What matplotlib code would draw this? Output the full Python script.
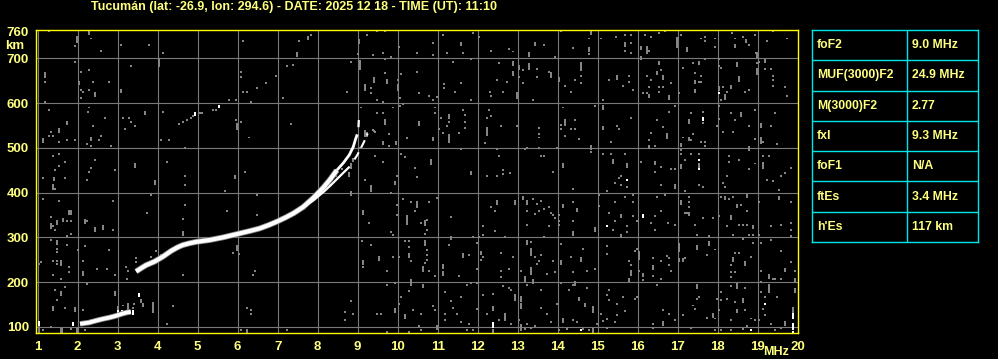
import numpy as np
import matplotlib
matplotlib.use("Agg")
import matplotlib.pyplot as plt

# ---------------- data ----------------
title = "Tucumán (lat: -26.9, lon: 294.6) - DATE: 2025 12 18 - TIME (UT): 11:10"
freq_ticks = list(range(1, 21))
height_ticks = [100, 200, 300, 400, 500, 600, 700, 760]

param_names = ["foF2", "MUF(3000)F2", "M(3000)F2", "fxI", "foF1", "ftEs", "h'Es"]
param_values = ["9.0 MHz", "24.9 MHz", "2.77", "9.3 MHz", "N/A", "3.4 MHz", "117 km"]

# F2 ordinary trace (MHz, km)
o_freq_low = [3.46, 3.60, 3.71, 3.92, 4.13, 4.34, 4.50, 4.63, 4.80, 4.96, 5.29, 5.63,
              5.96, 6.29, 6.55, 6.79, 7.00, 7.21, 7.40, 7.64, 7.89, 8.14, 8.30, 8.48]
o_h_low = [224, 232, 238, 246, 257, 270, 278, 283, 287, 290, 294, 300,
           307, 314, 320, 328, 336, 345, 354, 368, 388, 411, 428, 450]
o_freq_up = [8.48, 8.64, 8.79, 8.89, 8.95, 8.99]
o_h_up = [450, 466, 484, 502, 520, 530]
o_freq_top = [9.02, 9.03]
o_h_top = [546, 562]

# F2 extraordinary trace
x_freq_a = [7.70, 7.90, 8.14, 8.30, 8.48, 8.65, 8.80]
x_h_a = [372, 383, 401, 414, 430, 445, 458]
x_freq_b = [8.92, 8.99, 9.13, 9.20, 9.25]
x_h_b = [474, 484, 508, 521, 532]

# sporadic E trace
es_freq = [2.06, 2.29, 2.45, 2.63, 2.79, 2.96, 3.09, 3.21, 3.33]
es_h = [107, 110, 114, 118, 121, 125, 129, 132, 134]

# isolated echoes: (MHz, km, vertical extent km)
white_echoes = [(4.94, 573, 5), (5.53, 591, 3), (18.03, 622, 0), (17.63, 562, 4),
                (17.54, 473, 0), (17.54, 452, 0), (15.73, 428, 0), (15.23, 325, 0),
                (16.13, 346, 5), (14.58, 94, 0), (18.83, 94, 0), (19.18, 152, 0),
                (19.88, 119, 11), (19.88, 96, 11), (19.88, 88, 0), (12.38, 100, 8),
                (1.03, 104, 7), (1.88, 104, 4), (3.53, 170, 3), (3.0, 130, 5), (3.1, 132, 4),
                (3.2, 128, 5), (3.38, 130, 5), (2.7, 117, 4), (2.85, 120, 5),
                (3.83, 245, 0), (3.92, 249, 0), (4.04, 254, 0), (4.13, 258, 0)]

gray_near_traces = [(3.0, 137, 8), (3.13, 148, 0), (3.25, 141, 11), (3.38, 142, 0),
                    (3.42, 152, 0), (2.53, 121, 0), (2.33, 115, 0), (2.21, 111, 0),
                    (3.25, 224, 0), (3.21, 234, 0), (3.46, 245, 0), (3.46, 253, 0),
                    (3.83, 256, 0), (3.96, 269, 0), (4.08, 261, 0), (3.58, 156, 4),
                    (8.30, 418, 0), (8.45, 437, 0), (8.60, 452, 0), (8.79, 436, 8),
                    (8.83, 455, 8), (8.89, 470, 6), (9.05, 500, 0), (9.18, 526, 11),
                    (9.40, 537, 0), (4.53, 554, 0), (4.63, 558, 0), (4.73, 562, 0),
                    (4.83, 566, 0), (4.88, 572, 0), (5.05, 577, 0), (5.10, 577, 0),
                    (5.38, 584, 0), (5.45, 584, 0)]

gray_upper_left = [(1.29, 761, 0), (1.98, 737, 11), (1.94, 727, 0), (2.29, 754, 6), (2.34, 744, 0),
    (2.59, 717, 0), (3.09, 730, 0), (3.78, 730, 0), (4.13, 712, 0), (1.94, 692, 0), (3.34, 683, 0),
    (4.03, 683, 15), (6.13, 738, 0), (7.23, 683, 0), (1.18, 659, 7), (1.19, 648, 0), (2.03, 642, 6),
    (2.09, 670, 0), (2.28, 674, 0), (2.38, 648, 0), (2.78, 648, 0), (2.09, 629, 0), (2.13, 625, 0),
    (2.28, 629, 0), (2.43, 616, 6), (2.09, 612, 0), (3.09, 624, 5), (6.08, 669, 0), (6.08, 657, 0),
    (6.96, 660, 0), (6.71, 644, 0), (6.48, 634, 0), (6.23, 625, 0), (6.13, 625, 0), (7.13, 611, 0),
    (5.79, 607, 0), (5.96, 607, 0), (6.33, 603, 0), (1.18, 603, 0), (1.28, 584, 0), (2.25, 581, 0),
    (2.28, 590, 0), (2.68, 567, 0), (3.13, 567, 0), (3.28, 567, 0), (3.34, 558, 0), (3.43, 549, 0),
    (3.18, 541, 0), (3.68, 575, 6), (4.13, 581, 0), (1.74, 553, 5), (2.38, 549, 0), (1.53, 535, 6),
    (1.33, 536, 0), (1.28, 526, 0), (1.38, 526, 0), (1.13, 513, 6), (1.53, 513, 0), (1.73, 518, 0),
    (1.93, 518, 0), (2.34, 517, 5), (2.54, 518, 0), (2.59, 526, 0), (2.24, 509, 0), (2.34, 505, 0),
    (2.84, 504, 0), (4.09, 518, 0), (4.28, 518, 0), (4.68, 500, 0), (5.96, 562, 0), (6.08, 558, 0),
    (5.98, 543, 10), (6.28, 523, 0), (1.38, 482, 0), (1.53, 486, 0), (1.69, 469, 0), (1.53, 459, 0),
    (1.43, 450, 0), (1.13, 433, 0), (1.42, 428, 5), (1.68, 433, 0), (2.24, 428, 0), (2.29, 447, 0),
    (2.34, 456, 0), (2.43, 473, 0), (2.93, 450, 0), (3.43, 458, 7), (4.23, 469, 0), (4.68, 438, 0),
    (5.94, 432, 6), (6.18, 447, 0)]

gray_upper_mid = [(7.83, 752, 0), (7.77, 742, 6), (7.54, 739, 0), (7.48, 706, 6), (7.38, 684, 0),
    (9.03, 733, 7), (9.23, 752, 0), (9.48, 761, 0), (9.69, 761, 0), (10.03, 726, 0), (9.02, 709, 0),
    (9.39, 707, 0), (9.63, 712, 0), (9.84, 703, 0), (8.83, 692, 0), (9.06, 677, 17), (9.69, 698, 0),
    (10.48, 712, 0), (10.88, 735, 0), (10.88, 707, 0), (11.13, 752, 0), (11.58, 730, 5), (11.63, 712, 0),
    (11.23, 712, 0), (11.88, 757, 0), (12.03, 748, 0), (12.33, 717, 0), (12.78, 721, 0), (12.88, 715, 0),
    (12.88, 685, 7), (12.88, 663, 7), (13.28, 706, 6), (13.28, 677, 11), (13.03, 675, 7), (13.44, 729, 6),
    (13.48, 677, 0), (13.13, 674, 0), (13.48, 657, 0), (13.03, 657, 0), (13.13, 644, 0), (12.73, 648, 0),
    (12.48, 651, 0), (12.53, 689, 0), (11.83, 698, 0), (11.38, 692, 0), (10.48, 670, 0), (10.08, 665, 0),
    (10.0, 651, 0), (10.0, 629, 11), (9.69, 666, 0), (9.42, 648, 7), (9.73, 645, 6), (9.19, 629, 11),
    (9.33, 633, 0), (9.33, 622, 0), (8.73, 625, 0), (9.48, 607, 0), (9.63, 603, 0), (10.06, 612, 0),
    (10.53, 622, 0), (10.78, 616, 0), (10.88, 607, 0), (10.98, 614, 0), (11.17, 642, 0), (11.17, 634, 0),
    (11.43, 625, 0), (11.58, 644, 0), (11.83, 607, 0), (12.31, 625, 0), (12.33, 616, 0), (12.63, 625, 0),
    (12.98, 611, 11), (13.38, 607, 0), (9.08, 590, 0), (9.48, 577, 0), (9.63, 577, 0), (9.69, 553, 10),
    (9.88, 590, 0), (10.06, 593, 0), (10.13, 598, 0), (10.93, 590, 0), (10.93, 577, 0), (10.53, 552, 6),
    (11.08, 567, 0), (11.28, 566, 7), (11.28, 558, 0), (11.23, 549, 0), (11.03, 541, 0), (11.13, 532, 0),
    (11.28, 514, 15), (11.53, 532, 0), (11.64, 584, 0), (11.68, 573, 0), (11.68, 558, 0), (11.68, 545, 0),
    (12.29, 584, 0), (12.23, 567, 0), (12.33, 571, 0), (12.23, 529, 15), (12.58, 549, 0), (12.98, 549, 0),
    (12.19, 510, 0), (9.23, 526, 6), (9.38, 540, 0), (9.44, 536, 0), (9.78, 531, 0), (9.63, 509, 5),
    (9.79, 504, 0), (9.96, 509, 5), (10.23, 522, 0), (10.88, 518, 5), (10.08, 486, 0), (10.19, 479, 0),
    (9.44, 482, 0), (9.63, 469, 0), (10.44, 456, 0), (10.48, 434, 0), (10.83, 464, 9), (11.58, 497, 0),
    (12.48, 497, 0), (12.53, 482, 0), (11.83, 442, 5), (12.23, 436, 0), (12.48, 437, 0), (12.63, 451, 0),
    (12.63, 442, 0), (12.81, 443, 0), (13.19, 497, 0), (13.23, 500, 0), (13.54, 500, 0), (13.58, 482, 0),
    (13.53, 544, 0), (13.53, 531, 0), (13.53, 523, 0), (7.34, 553, 0), (9.98, 437, 0), (9.19, 428, 0)]

gray_upper_right = [(14.08, 761, 0), (14.83, 754, 7), (14.79, 744, 0), (14.79, 715, 7), (14.79, 709, 0),
    (14.39, 722, 0), (15.08, 744, 0), (15.45, 748, 0), (15.69, 752, 0), (15.69, 727, 7), (15.69, 717, 0),
    (15.84, 752, 0), (15.84, 735, 0), (15.84, 712, 0), (16.08, 720, 6), (16.23, 711, 15), (16.29, 717, 0),
    (16.19, 752, 0), (16.33, 748, 0), (16.54, 757, 0), (16.68, 761, 0), (16.98, 726, 19), (17.08, 752, 0),
    (17.24, 717, 5), (17.58, 744, 0), (17.68, 748, 0), (17.68, 738, 0), (17.93, 744, 0), (17.93, 726, 0),
    (18.37, 757, 0), (18.43, 744, 0), (18.43, 724, 5), (18.64, 748, 0), (18.7, 737, 4), (18.78, 730, 0),
    (18.93, 752, 0), (19.23, 738, 0), (19.73, 744, 0), (19.38, 761, 0), (18.96, 712, 0), (13.66, 730, 0),
    (13.93, 703, 0), (13.79, 670, 0), (13.83, 659, 7), (14.03, 650, 5), (14.18, 639, 0), (14.33, 625, 0),
    (14.58, 674, 15), (14.58, 660, 0), (14.58, 644, 0), (14.43, 651, 0), (14.93, 594, 0), (15.13, 607, 0),
    (15.13, 587, 6), (15.28, 651, 0), (15.48, 654, 7), (15.63, 639, 0), (15.79, 648, 0), (15.79, 661, 0),
    (15.88, 629, 0), (16.08, 698, 5), (16.54, 686, 6), (16.58, 674, 0), (16.49, 664, 6), (16.63, 654, 7),
    (16.33, 651, 0), (16.23, 661, 0), (16.28, 635, 0), (16.53, 635, 0), (16.63, 635, 0), (16.53, 625, 0),
    (16.83, 644, 0), (16.13, 622, 0), (16.23, 622, 0), (16.28, 614, 5), (16.78, 610, 5), (17.03, 622, 0),
    (17.13, 679, 0), (17.38, 689, 0), (17.53, 686, 6), (17.68, 698, 0), (17.43, 666, 0), (17.58, 661, 0),
    (17.43, 644, 6), (17.53, 648, 0), (17.58, 648, 0), (17.43, 624, 5), (18.03, 698, 0), (18.03, 683, 0),
    (18.08, 679, 0), (18.48, 683, 6), (18.53, 650, 7), (18.33, 633, 6), (18.13, 635, 0), (18.23, 625, 0),
    (18.03, 629, 6), (18.18, 610, 7), (18.08, 607, 0), (18.68, 625, 0), (18.78, 629, 0), (18.98, 703, 9),
    (18.98, 689, 0), (18.98, 664, 11), (19.03, 692, 0), (19.18, 692, 5), (19.18, 675, 0), (19.33, 675, 0),
    (19.38, 661, 0), (19.38, 651, 0), (19.38, 639, 0), (19.68, 635, 0), (19.73, 616, 0), (18.03, 593, 0),
    (17.63, 581, 0), (17.63, 556, 0), (17.33, 577, 0), (17.28, 556, 7), (17.13, 523, 0), (17.28, 518, 5),
    (17.33, 517, 0), (17.38, 530, 0), (17.58, 514, 0), (17.68, 514, 0), (17.68, 504, 0), (17.54, 458, 7),
    (17.08, 503, 6), (17.08, 495, 0), (17.08, 454, 7), (17.18, 473, 0), (17.33, 486, 0), (17.53, 486, 0),
    (17.09, 486, 0), (16.73, 521, 9), (16.63, 547, 0), (16.48, 562, 0), (16.33, 532, 0), (16.28, 517, 0),
    (16.28, 499, 5), (16.43, 504, 0), (16.08, 469, 0), (16.43, 464, 5), (16.83, 452, 0), (16.93, 452, 0),
    (16.58, 458, 0), (16.43, 447, 0), (16.78, 581, 0), (16.93, 593, 0), (15.83, 567, 0), (15.48, 549, 0),
    (15.53, 541, 0), (15.33, 514, 0), (15.13, 543, 4), (14.83, 498, 6), (14.83, 491, 0), (15.13, 486, 0),
    (15.33, 486, 0), (15.38, 467, 6), (15.68, 486, 0), (15.73, 458, 7), (15.58, 438, 0), (15.53, 433, 0),
    (14.13, 458, 7), (13.88, 447, 0), (13.66, 482, 0), (13.98, 500, 0), (14.53, 519, 0), (14.18, 526, 0),
    (14.33, 541, 0), (14.08, 541, 0), (14.44, 543, 0), (14.18, 552, 10), (14.08, 552, 0), (14.44, 562, 0),
    (14.13, 590, 0), (18.03, 564, 0), (17.98, 549, 0), (18.13, 536, 0), (18.33, 578, 0), (18.43, 562, 0),
    (18.38, 536, 0), (18.58, 571, 6), (18.78, 549, 0), (18.93, 584, 0), (18.93, 519, 0), (19.08, 547, 7),
    (19.08, 510, 13), (19.13, 514, 0), (19.33, 549, 0), (19.43, 577, 0), (19.48, 509, 0), (18.78, 494, 7),
    (18.28, 482, 0), (18.28, 469, 0), (18.23, 438, 0), (18.78, 452, 0), (18.93, 465, 0), (19.13, 482, 0),
    (19.13, 456, 10), (19.28, 482, 0), (19.58, 438, 0), (19.68, 443, 0), (19.83, 456, 0), (19.23, 428, 0),
    (19.38, 426, 0), (18.53, 473, 0)]

gray_lower_left = [(1.38, 408, 10), (1.43, 409, 0), (3.94, 419, 7), (4.68, 418, 0), (1.13, 386, 0),
    (1.53, 381, 0), (2.88, 381, 0), (3.83, 395, 0), (1.78, 353, 6), (1.83, 353, 6), (1.63, 336, 6),
    (1.33, 346, 0), (1.48, 331, 6), (1.73, 337, 0), (1.83, 337, 0), (1.33, 322, 9), (1.38, 325, 0),
    (1.43, 317, 0), (1.83, 308, 0), (1.73, 303, 0), (1.33, 294, 0), (1.48, 286, 7), (1.48, 275, 0),
    (1.48, 267, 0), (1.73, 282, 0), (2.0, 271, 0), (2.19, 280, 0), (2.19, 333, 5), (2.24, 337, 0),
    (2.43, 314, 6), (2.63, 318, 7), (2.79, 271, 0), (2.88, 317, 0), (3.74, 355, 0), (4.68, 372, 0),
    (4.63, 342, 0), (4.63, 305, 7), (4.68, 287, 0), (5.73, 359, 0), (6.48, 395, 0), (6.48, 351, 0),
    (5.68, 404, 0), (5.98, 271, 9), (6.03, 262, 0), (5.88, 266, 0), (6.43, 225, 0), (6.38, 217, 0),
    (1.03, 241, 0), (1.08, 245, 0), (1.38, 247, 0), (1.48, 247, 0), (1.58, 239, 8), (1.48, 240, 0),
    (1.78, 235, 0), (1.78, 223, 0), (2.13, 247, 0), (2.13, 215, 7), (1.38, 217, 0), (1.58, 208, 0),
    (2.48, 230, 0), (2.73, 230, 0), (2.93, 215, 0), (3.23, 208, 0), (2.23, 195, 0), (1.43, 182, 0),
    (1.68, 189, 0), (1.58, 171, 7), (1.48, 160, 0), (1.38, 137, 7), (1.68, 142, 0), (1.93, 136, 6),
    (2.13, 139, 0), (2.93, 171, 7), (3.88, 134, 19), (3.63, 147, 5), (4.38, 147, 0), (4.63, 217, 0),
    (4.23, 107, 0), (6.23, 143, 0), (6.33, 139, 0), (6.33, 130, 0), (1.03, 89, 15), (1.58, 89, 7),
    (1.62, 89, 7), (1.33, 100, 0), (1.83, 96, 0), (1.98, 89, 7), (2.19, 94, 0), (6.08, 94, 0),
    (6.23, 89, 5), (7.23, 94, 0), (1.13, 94, 0)]

gray_lower_mid = [(8.83, 394, 7), (9.33, 403, 12), (9.94, 420, 4), (9.83, 400, 0), (10.14, 386, 0),
    (10.33, 378, 0), (10.48, 368, 10), (10.78, 378, 0), (10.98, 388, 0), (9.13, 353, 7), (9.28, 332, 0),
    (9.98, 372, 0), (9.98, 349, 0), (10.23, 331, 17), (10.43, 360, 0), (10.58, 333, 0), (10.68, 327, 9),
    (10.73, 338, 0), (10.73, 316, 0), (10.68, 307, 0), (9.83, 311, 0), (9.88, 306, 0), (11.33, 346, 0),
    (11.33, 296, 5), (11.88, 301, 0), (12.03, 301, 0), (12.13, 325, 0), (12.13, 306, 0), (11.98, 288, 0),
    (12.33, 368, 0), (12.48, 375, 6), (12.43, 359, 0), (12.43, 314, 0), (12.68, 301, 0), (12.93, 375, 6),
    (13.13, 385, 5), (13.23, 375, 6), (13.23, 358, 0), (13.23, 328, 0), (13.38, 386, 0), (13.48, 375, 0),
    (13.58, 381, 0), (13.43, 353, 0), (13.53, 358, 0), (9.11, 293, 0), (9.33, 284, 0), (9.13, 241, 7),
    (9.13, 234, 0), (9.53, 250, 6), (9.73, 225, 0), (9.88, 256, 0), (10.03, 256, 0), (10.18, 293, 0),
    (10.28, 293, 0), (10.28, 279, 0), (10.28, 256, 7), (10.33, 247, 0), (10.68, 282, 11), (10.73, 271, 0),
    (10.73, 260, 0), (10.73, 250, 0), (10.68, 243, 0), (10.63, 224, 10), (10.78, 224, 0), (10.93, 213, 0),
    (11.13, 232, 7), (11.13, 215, 7), (11.28, 284, 0), (11.53, 213, 0), (11.63, 256, 7), (11.78, 261, 0),
    (12.08, 262, 6), (12.13, 256, 0), (12.08, 249, 0), (11.98, 230, 0), (12.58, 266, 0), (12.58, 224, 0),
    (12.58, 212, 0), (12.78, 230, 0), (12.88, 256, 0), (13.08, 224, 0), (13.23, 286, 7), (13.33, 290, 0),
    (13.33, 261, 13), (13.43, 256, 0), (13.48, 241, 0), (13.53, 247, 0), (13.58, 261, 0), (13.33, 219, 13),
    (13.18, 202, 10), (13.38, 199, 5), (13.23, 194, 0), (9.73, 194, 0), (9.93, 199, 0), (10.33, 193, 11),
    (10.63, 189, 5), (10.28, 181, 0), (10.08, 167, 0), (10.03, 152, 0), (9.93, 134, 7), (10.18, 119, 7),
    (10.38, 139, 0), (10.58, 130, 0), (10.88, 147, 0), (10.93, 137, 0), (8.83, 157, 0), (8.68, 134, 0),
    (8.68, 116, 0), (8.88, 130, 0), (9.48, 130, 0), (9.58, 130, 0), (9.73, 89, 0), (10.28, 89, 0),
    (10.53, 102, 0), (10.58, 94, 0), (10.98, 96, 7), (11.18, 178, 0), (11.18, 130, 0), (11.18, 116, 0),
    (11.33, 157, 0), (11.38, 142, 0), (11.48, 130, 0), (11.58, 168, 0), (11.58, 111, 0), (11.73, 194, 0),
    (11.83, 199, 0), (11.73, 94, 0), (11.88, 94, 0), (11.78, 107, 0), (11.98, 199, 0), (11.98, 141, 0),
    (12.13, 172, 0), (12.23, 130, 0), (12.38, 173, 0), (12.38, 137, 7), (12.38, 89, 5), (12.53, 116, 0),
    (12.63, 191, 0), (12.68, 115, 15), (12.78, 187, 0), (12.83, 183, 0), (12.83, 107, 0), (12.93, 160, 11),
    (13.08, 158, 10), (13.08, 142, 10), (13.03, 116, 0), (13.08, 93, 11), (13.18, 96, 0), (13.33, 98, 0),
    (13.43, 102, 0), (13.58, 182, 0), (13.58, 142, 0), (13.23, 107, 0)]

gray_lower_right = [(15.43, 421, 0), (15.58, 418, 0), (15.73, 413, 0), (16.58, 418, 0), (16.93, 411, 7),
    (17.18, 404, 0), (17.53, 418, 0), (17.63, 413, 0), (18.13, 421, 0), (18.18, 413, 0), (19.53, 405, 0),
    (14.38, 409, 0), (15.23, 404, 0), (15.03, 395, 0), (15.68, 390, 0), (15.88, 395, 0), (16.48, 390, 0),
    (16.68, 395, 0), (17.08, 375, 7), (17.28, 390, 0), (17.28, 378, 0), (17.28, 368, 0), (17.28, 349, 5),
    (17.18, 355, 0), (18.18, 385, 5), (18.28, 386, 0), (18.08, 390, 0), (18.38, 390, 0), (18.73, 390, 5),
    (18.48, 368, 5), (18.58, 372, 0), (18.73, 359, 0), (19.03, 378, 0), (19.53, 385, 5), (19.83, 378, 0),
    (14.13, 368, 5), (14.38, 378, 0), (14.48, 358, 6), (13.78, 368, 0), (13.66, 364, 0), (13.83, 355, 0),
    (13.88, 349, 0), (13.93, 343, 0), (14.03, 351, 0), (14.03, 336, 0), (14.03, 327, 0), (13.78, 325, 0),
    (14.38, 337, 0), (14.38, 305, 7), (14.93, 314, 6), (15.03, 370, 0), (15.28, 355, 0), (15.43, 378, 0),
    (15.59, 346, 5), (15.88, 378, 0), (15.88, 347, 0), (15.73, 325, 0), (15.73, 312, 0), (15.43, 336, 0),
    (15.38, 316, 0), (15.59, 301, 5), (15.98, 336, 0), (16.43, 347, 0), (16.33, 333, 0), (16.43, 316, 0),
    (16.58, 359, 0), (16.76, 333, 0), (16.93, 328, 0), (17.23, 355, 0), (17.63, 343, 0), (17.43, 328, 0),
    (17.48, 306, 0), (17.78, 303, 0), (17.88, 343, 0), (18.03, 347, 0), (18.23, 325, 0), (18.33, 342, 5),
    (18.38, 306, 0), (18.53, 327, 0), (18.63, 328, 0), (18.73, 328, 0), (18.88, 320, 5), (18.78, 306, 0),
    (18.88, 306, 0), (19.03, 305, 0), (19.33, 325, 0), (19.58, 328, 0), (19.83, 333, 0), (19.83, 316, 0),
    (19.83, 303, 0), (13.66, 301, 0), (14.08, 285, 0), (14.63, 275, 0), (14.33, 256, 0), (14.58, 248, 5),
    (14.08, 241, 7), (13.88, 247, 0), (13.73, 219, 0), (13.93, 223, 0), (14.38, 223, 0), (14.43, 194, 6),
    (14.73, 224, 0), (14.93, 230, 0), (15.23, 281, 0), (15.23, 264, 0), (15.93, 269, 0), (15.98, 275, 0),
    (16.03, 251, 16), (15.78, 247, 0), (15.83, 238, 0), (15.83, 215, 9), (16.13, 213, 6), (16.13, 204, 0),
    (16.03, 224, 0), (15.78, 202, 6), (16.38, 253, 0), (16.38, 230, 7), (16.38, 213, 0), (16.58, 208, 0),
    (16.73, 258, 0), (16.78, 253, 0), (16.78, 239, 0), (16.83, 226, 0), (16.58, 247, 0), (17.03, 269, 17),
    (17.03, 247, 5), (17.13, 247, 5), (17.18, 253, 0), (17.48, 275, 5), (17.78, 282, 7), (17.73, 261, 0),
    (17.93, 273, 0), (18.38, 247, 7), (18.43, 266, 0), (18.53, 266, 0), (18.68, 239, 6), (18.83, 256, 0),
    (18.33, 238, 0), (18.33, 223, 0), (18.43, 223, 0), (18.33, 212, 0), (18.63, 296, 0), (18.88, 288, 0),
    (19.08, 288, 0), (19.33, 294, 0), (19.58, 270, 0), (19.68, 224, 6), (19.83, 245, 0), (19.93, 224, 0),
    (19.58, 208, 0), (19.28, 209, 6), (19.38, 208, 0), (19.43, 208, 0), (19.08, 226, 0), (19.08, 200, 0),
    (14.08, 199, 0), (14.28, 182, 0), (14.38, 194, 0), (14.73, 186, 0), (14.53, 160, 4), (14.68, 147, 5),
    (14.88, 133, 11), (15.08, 130, 0), (15.28, 182, 0), (15.23, 172, 0), (15.28, 160, 0), (15.48, 152, 0),
    (15.63, 167, 0), (15.68, 135, 0), (15.48, 127, 0), (15.23, 117, 0), (15.43, 111, 0), (15.13, 113, 0),
    (14.98, 107, 0), (15.23, 98, 0), (14.88, 89, 7), (14.78, 94, 0), (14.63, 96, 0), (14.48, 111, 0),
    (14.38, 116, 0), (14.23, 96, 0), (14.13, 111, 7), (13.98, 152, 0), (13.83, 111, 0), (13.73, 130, 0),
    (14.03, 94, 0), (15.93, 163, 0), (15.98, 167, 0), (16.48, 194, 0), (16.63, 139, 0), (16.78, 130, 0),
    (16.93, 116, 0), (17.13, 126, 0), (17.33, 98, 0), (16.38, 107, 0), (16.38, 98, 0), (16.63, 104, 7),
    (17.48, 186, 7), (17.48, 163, 0), (17.43, 141, 0), (17.38, 148, 0), (17.53, 168, 0), (17.73, 120, 0),
    (17.88, 122, 7), (17.98, 163, 0), (18.08, 178, 0), (18.03, 137, 0), (17.93, 119, 0), (18.23, 163, 0),
    (18.33, 191, 0), (18.43, 156, 0), (18.48, 186, 9), (18.48, 134, 5), (18.63, 156, 7), (18.68, 186, 0),
    (18.68, 137, 0), (18.83, 119, 0), (18.93, 116, 0), (19.03, 116, 0), (18.73, 102, 0), (18.63, 96, 0),
    (18.33, 116, 0), (18.33, 94, 0), (17.93, 94, 0), (18.08, 94, 0), (18.08, 160, 0), (19.08, 178, 0),
    (19.18, 167, 0), (19.28, 178, 15), (19.48, 168, 0), (19.13, 141, 0), (19.18, 126, 0), (19.33, 107, 0),
    (19.43, 94, 0), (19.58, 98, 0), (19.68, 104, 7), (19.93, 178, 7), (19.93, 200, 7), (19.88, 132, 10)]

# ---------------- styling ----------------
BG = "black"
YEL = "#ffff00"
TXT = "#ffff80"
GRID = "#7a7a7a"
NOISE = "#858585"
CYAN = "#00e6e6"
FONT = "Liberation Sans"

W, H = 998, 359
fig = plt.figure(figsize=(W / 100, H / 100), dpi=100, facecolor=BG)
ax = fig.add_axes([36 / W, 1 - 333 / H, 762 / W, 303 / H], facecolor=BG)
ax.set_xlim(0.958, 20.01)
ax.set_ylim(86.6, 763)

for f in freq_ticks[:-1]:
    ax.axvline(f, color=GRID, lw=0.8, zorder=0)
for h in height_ticks[:-1]:
    ax.axhline(h, color=GRID, lw=0.8, zorder=0)

def draw_echoes(items, color):
    a = np.array(items, dtype=float)
    ax.bar(a[:, 0], a[:, 2] + 4.4, bottom=a[:, 1] - 2.2, width=0.05, color=color,
           linewidth=0, antialiased=False, zorder=2)

for grp in (gray_upper_left, gray_upper_mid, gray_upper_right,
            gray_lower_left, gray_lower_mid, gray_lower_right, gray_near_traces):
    draw_echoes(grp, NOISE)

# traces
ax.plot(o_freq_low, o_h_low, color=NOISE, lw=4.2, solid_capstyle="butt", zorder=3)
ax.plot(o_freq_low, o_h_low, color="white", lw=3.0, solid_capstyle="butt", zorder=4)
ax.plot(o_freq_up, o_h_up, color="white", lw=2.0, solid_capstyle="butt", zorder=4)
ax.plot(o_freq_top, o_h_top, color="white", lw=1.6, solid_capstyle="butt", zorder=4)
ax.plot(x_freq_a, x_h_a, color="white", lw=1.6, solid_capstyle="butt", zorder=4)
ax.plot(x_freq_b, x_h_b, color="white", lw=1.5, ls=(0, (4, 2.5)), zorder=4)
ax.plot(es_freq, es_h, color=NOISE, lw=4.0, solid_capstyle="butt", zorder=3)
ax.plot(es_freq, es_h, color="white", lw=2.8, solid_capstyle="butt", zorder=4)
draw_echoes(white_echoes, "white")

for s in ax.spines.values():
    s.set_color(YEL)
    s.set_linewidth(1.0)

ax.set_xticks(freq_ticks)
ax.set_xticklabels([str(v) for v in freq_ticks])
ax.set_yticks(height_ticks)
ax.set_yticklabels([str(v) for v in height_ticks])
ax.tick_params(length=0, colors=TXT, labelsize=9.5, pad=5)
ax.tick_params(axis="x", pad=6)
for lab in ax.get_xticklabels() + ax.get_yticklabels():
    lab.set_fontfamily(FONT)
    lab.set_fontweight("bold")
    lab.set_color(TXT)

fig.text(294 / W, 1 - 7 / H, title, color=TXT, fontsize=9, fontweight="bold",
         family=FONT, ha="center", va="center")
fig.text(5 / W, 1 - 46 / H, "km", color=TXT, fontsize=9.5, fontweight="bold",
         family=FONT, ha="left", va="center")
fig.text(789 / W, 1 - 352 / H, "MHz", color=TXT, fontsize=9, fontweight="bold",
         family=FONT, ha="right", va="center")

# parameter table
tx = fig.add_axes([812 / W, 1 - 242 / H, 166 / W, 212 / H], facecolor=BG)
n = len(param_names)
tx.set_xlim(0, 166)
tx.set_ylim(n, 0)
tx.set_xticks([])
tx.set_yticks([])
for s in tx.spines.values():
    s.set_color(CYAN)
    s.set_linewidth(1.0)
for i in range(1, n):
    tx.axhline(i, color=CYAN, lw=1.0)
tx.axvline(95, color=CYAN, lw=1.0)
for i, (nm, val) in enumerate(zip(param_names, param_values)):
    tx.text(5, i + 0.5, nm, color=TXT, fontsize=8.8, fontweight="bold", family=FONT,
            ha="left", va="center")
    tx.text(100, i + 0.5, val, color=TXT, fontsize=8.8, fontweight="bold", family=FONT,
            ha="left", va="center")

fig.savefig("out.png", dpi=100, facecolor=BG)
